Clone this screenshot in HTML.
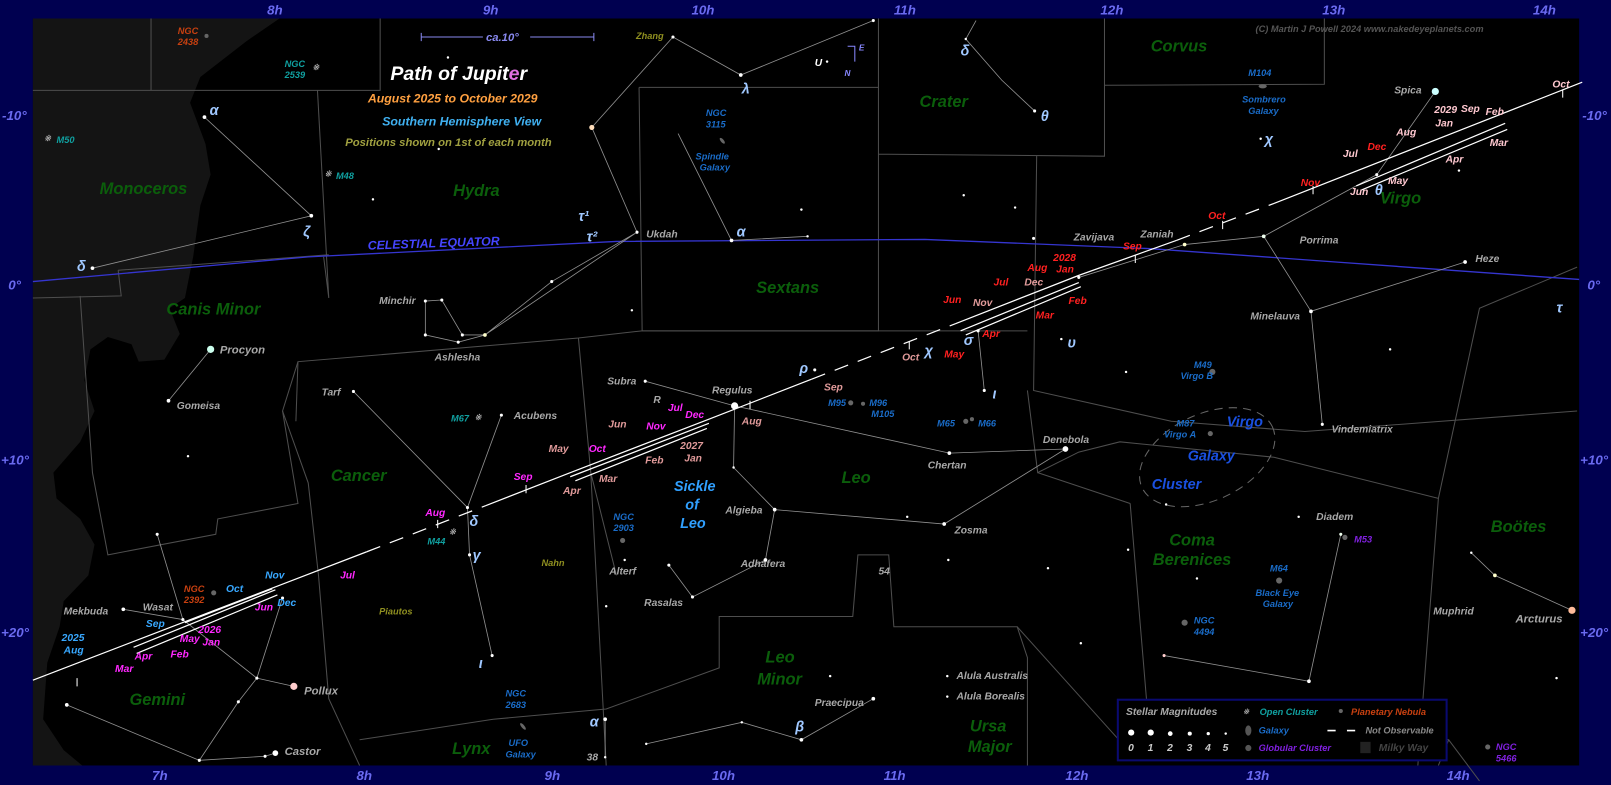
<!DOCTYPE html>
<html><head><meta charset="utf-8"><style>
html,body{margin:0;padding:0;background:#000050;}
svg{display:block;}
text{font-family:"Liberation Sans",sans-serif;font-style:italic;font-weight:bold;}
.ax{fill:#6a6af0;font-size:13px;}
.cn{fill:#0b5e0b;font-size:16px;}
.sn{fill:#a8a8a8;font-size:10px;}
.gl{fill:#1a6cc8;font-size:9px;}
.oc{fill:#10a0a0;font-size:9px;}
.pn{fill:#c84010;font-size:9px;}
.gc{fill:#8020e0;font-size:9px;}
.gk{fill:#a0c8ff;font-size:14px;font-weight:normal;font-family:"DejaVu Serif",serif;}
.m{font-style:normal;font-size:10px;}
.b{fill:#38a8ff}.g{fill:#ff28ff}.p{fill:#e09a9a}.r{fill:#ff2020}.k{fill:#ffc8d0}
</style></head><body>
<svg width="1611" height="785" viewBox="0 0 1568 764" preserveAspectRatio="none" xmlns="http://www.w3.org/2000/svg">
<rect x="0" y="0" width="1568" height="764" fill="#000050"/>
<rect x="32" y="18" width="1505" height="727" fill="#000"/>
<path d="M32,18 L272,18 L240,40 L195,75 L185,100 L200,140 L205,170 L195,200 L188,250 L180,290 L165,300 L175,325 L160,350 L135,352 L128,335 L105,328 L88,340 L82,370 L92,400 L78,430 L52,460 L55,485 L78,505 L92,530 L86,560 L62,585 L58,610 L46,645 L42,700 L62,730 L80,745 L32,745 Z" fill="#141414"/>
<g stroke="#4e4e4e" stroke-width="1" fill="none">
<path d="M147,18 L147,88 M32,88 L370,88 L370,18 M309,88 L320,290 L315,250 M115,263 L320,248 M115,263 L118,288 L32,290"/>
<path d="M622,85 L855,85 M622,85 L625,322 L855,322 L855,18 M855,150 L1075,152 L1075,18 M1075,83 L1289,82 L1289,18 M1009,152 L1006,380 L1140,410 L1270,420 L1535,400"/>
<path d="M78,288 L90,460 L105,540 L210,520 L212,505 L290,490 L275,400 L290,352 L563,329 L625,322 L1000,322"/>
<path d="M290,352 L288,410 M275,400 L300,470 L310,560 L320,680 L350,745"/>
<path d="M563,329 L575,460 L590,745 M575,460 L600,560"/>
<path d="M350,720 L480,700 L590,690 L700,650 L700,600 L830,600 L835,540 L865,540 L870,610 L990,610 L1000,640 L1000,745"/>
<path d="M1000,380 L1010,460 L1050,440 L1090,430 L1240,445 L1400,485 L1380,745"/>
<path d="M1100,490 L1120,730 M1100,490 L1010,460"/>
<path d="M1400,485 L1440,300 L1535,260 M1345,700 L1410,720 L1400,745 M1410,720 L1440,760"/>
<path d="M1089,720 L990,610"/>
</g>
<path d="M32,274 L300,250 L600,235 L900,233 L1120,242 L1300,255 L1537,272" stroke="#3535d0" stroke-width="1.3" fill="none"/>
<text x="358" y="243" fill="#4545ff" font-size="12" transform="rotate(-2 358 243)">CELESTIAL EQUATOR</text>
<ellipse cx="1175" cy="445" rx="70" ry="42" transform="rotate(-25 1175 445)" stroke="#666" stroke-dasharray="8,6" fill="none"/>
<g stroke="#909090" stroke-width="0.8" fill="none">
<path d="M199,114 L303,210 L90,261"/>
<path d="M205,340 L164,390"/>
<path d="M344,381 L455,494 L488,404 M455,494 L457,540 L479,638"/>
<path d="M153,520 L178,603 L250,660 L275,582 M250,660 L286,668 M250,660 L232,683 L194,740 M65,686 L194,740 L258,736 L268,733 M120,593 L178,603"/>
<path d="M576,124 L620,226 L472,326 M620,226 L537,274 L472,326 L446,333 L414,326 L414,293 L430,292 L450,326 L472,326"/>
<path d="M576,124 L655,36 L721,73 L850,20"/>
<path d="M660,130 L712,234 L786,230"/>
<path d="M628,371 L715,395 L924,441 L1037,437 M715,395 L714,455 L754,496 L919,510 L1037,437 M754,496 L745,545 L674,581 L651,550"/>
<path d="M958,380 L952,322"/>
<path d="M950,20 L940,38 L975,78 L1007,108"/>
<path d="M1276,303 L1230,230 L1153,238 L1050,270 M1276,303 L1287,413 M1276,303 L1426,255 M1230,230 L1340,170 M1340,170 L1397,89"/>
<path d="M1133,638 L1274,663 L1305,520 M1432,538 L1455,560 L1530,594"/>
<path d="M589,700 L589,737 M629,724 L722,703 L780,720 L850,680"/>
</g>
<g stroke="#fff" stroke-width="1.2" fill="none">
<path d="M32,662 L357,537 M473,492 L555,460 L690,408 L790,369 M930,315 L1050,268 L1145,234 M1240,198 L1540,80"/>
<path d="M357,537 L473,492 M790,369 L930,315 M1145,234 L1240,198" stroke-dasharray="14,10"/>
<path d="M130,630 L268,574 M133,636 L270,579 M180,606 L265,573"/>
<path d="M555,464 L690,412 M560,468 L688,417"/>
<path d="M935,322 L1050,275 M940,326 L1052,279"/>
<path d="M1320,181 L1465,120 M1325,185 L1467,126"/>
</g>
<g stroke="#fff" stroke-width="1">
<path d="M75,668 l0,-8 M426,514 l0,-8 M512,480 l0,-8 M730,398 l0,-8 M885,340 l0,-8 M1105,256 l0,-8 M1190,223 l0,-8 M1278,189 l0,-8 M1521,95 l0,-8"/>
</g>
<g fill="#fff">
<circle cx="205" cy="340" r="3.5" fill="#cfe"/><circle cx="164" cy="390" r="1.8"/><circle cx="199" cy="114" r="1.8"/><circle cx="303" cy="210" r="1.8"/><circle cx="90" cy="261" r="1.8"/>
<circle cx="344" cy="381" r="1.5"/><circle cx="488" cy="404" r="1.5"/><circle cx="455" cy="494" r="1.5"/><circle cx="457" cy="540" r="1.5"/><circle cx="479" cy="638" r="1.5"/>
<circle cx="286" cy="668" r="3.5" fill="#fcc"/><circle cx="268" cy="733" r="2.8"/><circle cx="258" cy="736" r="1.5"/><circle cx="194" cy="740" r="1.5"/><circle cx="65" cy="686" r="1.8"/><circle cx="232" cy="683" r="1.5"/><circle cx="250" cy="660" r="1.5"/><circle cx="275" cy="582" r="1.5"/><circle cx="153" cy="520" r="1.5"/><circle cx="120" cy="593" r="1.8"/><circle cx="178" cy="603" r="1.5"/>
<circle cx="576" cy="124" r="2.5" fill="#fdb"/><circle cx="620" cy="226" r="1.5"/><circle cx="537" cy="274" r="1.5"/><circle cx="472" cy="326" r="1.8" fill="#ffc"/><circle cx="446" cy="333" r="1.5"/><circle cx="414" cy="326" r="1.5"/><circle cx="414" cy="293" r="1.5"/><circle cx="430" cy="292" r="1.5"/><circle cx="450" cy="326" r="1.5"/>
<circle cx="655" cy="36" r="1.5"/><circle cx="721" cy="73" r="1.8"/><circle cx="850" cy="20" r="1.5"/><circle cx="712" cy="234" r="1.8"/><circle cx="786" cy="230" r="1.2"/><circle cx="805" cy="60" r="1.2"/>
<circle cx="715" cy="395" r="3.5"/><circle cx="628" cy="371" r="1.5"/><circle cx="924" cy="441" r="1.8"/><circle cx="1037" cy="437" r="2.8"/><circle cx="714" cy="455" r="1.2"/><circle cx="754" cy="496" r="1.8"/><circle cx="919" cy="510" r="1.8"/><circle cx="745" cy="545" r="1.8"/><circle cx="674" cy="581" r="1.5"/><circle cx="651" cy="550" r="1.5"/><circle cx="608" cy="545" r="1.2"/><circle cx="793" cy="360" r="1.5"/><circle cx="958" cy="380" r="1.5"/><circle cx="952" cy="322" r="1.5"/><circle cx="883" cy="503" r="1.2"/>
<circle cx="1007" cy="108" r="1.5"/><circle cx="940" cy="38" r="1.2"/><circle cx="1227" cy="135" r="1.2"/>
<circle cx="1397" cy="89" r="3.5" fill="#cff"/><circle cx="1340" cy="170" r="1.5"/><circle cx="1230" cy="230" r="1.8" fill="#efe"/><circle cx="1153" cy="238" r="1.8" fill="#ffc"/><circle cx="1050" cy="270" r="1.5"/><circle cx="1276" cy="303" r="1.8"/><circle cx="1287" cy="413" r="1.5"/><circle cx="1426" cy="255" r="1.8"/><circle cx="1006" cy="232" r="1.5"/><circle cx="1033" cy="330" r="1.2"/>
<circle cx="1305" cy="520" r="1.5" fill="#efe"/><circle cx="1274" cy="663" r="1.8"/><circle cx="1133" cy="638" r="1.5" fill="#fcc"/><circle cx="1455" cy="560" r="1.8" fill="#ffc"/><circle cx="1432" cy="538" r="1.2"/><circle cx="1530" cy="594" r="3.5" fill="#fb9"/>
<circle cx="589" cy="700" r="1.8"/><circle cx="589" cy="737" r="1.2"/><circle cx="722" cy="703" r="1.2"/><circle cx="780" cy="720" r="1.8"/><circle cx="850" cy="680" r="1.8"/><circle cx="629" cy="724" r="1.2"/><circle cx="922" cy="658" r="1.2"/><circle cx="922" cy="678" r="1.2"/><circle cx="808" cy="658" r="1.2"/>
<circle cx="436" cy="56" r="1.2"/><circle cx="363" cy="194" r="1.2"/><circle cx="427" cy="145" r="1.2"/><circle cx="780" cy="204" r="1.2"/><circle cx="938" cy="190" r="1.2"/><circle cx="988" cy="202" r="1.2"/><circle cx="1096" cy="362" r="1.2"/><circle cx="1353" cy="340" r="1.2"/><circle cx="1420" cy="166" r="1.2"/><circle cx="1264" cy="503" r="1.2"/><circle cx="1165" cy="563" r="1.2"/><circle cx="1152" cy="606" r="1.2"/><circle cx="1135" cy="491" r="1.2"/><circle cx="1515" cy="660" r="1.2"/><circle cx="1098" cy="535" r="1.2"/><circle cx="183" cy="444" r="1.2"/><circle cx="1020" cy="553" r="1.2"/><circle cx="1052" cy="626" r="1.2"/><circle cx="615" cy="302" r="1.2"/><circle cx="923" cy="545" r="1.2"/><circle cx="590" cy="590" r="1.2"/>
</g>
<g fill="#666"><circle cx="201" cy="35" r="2"/><circle cx="208" cy="577" r="2.5"/><circle cx="606" cy="526" r="2.5"/><circle cx="828" cy="392" r="2.5"/><circle cx="840" cy="393" r="2"/><circle cx="940" cy="410" r="2.5"/><circle cx="946" cy="408" r="2"/><circle cx="1180" cy="362" r="3"/><circle cx="1178" cy="422" r="2.5"/><circle cx="1153" cy="606" r="3"/><circle cx="1245" cy="565" r="3"/><circle cx="1309" cy="523" r="2.5"/><circle cx="1448" cy="727" r="2.5"/><ellipse cx="1229" cy="84" rx="4" ry="2"/><ellipse cx="703" cy="137" rx="1.5" ry="3.5" transform="rotate(-40 703 137)"/><ellipse cx="509" cy="707" rx="1.5" ry="4" transform="rotate(-40 509 707)"/></g>
<g fill="#aaa" font-size="8" font-style="normal"><text x="304" y="68">※</text><text x="43" y="137">※</text><text x="316" y="172">※</text><text x="462" y="409">※</text><text x="437" y="520">※</text></g>
<path d="M410,36 L578,36 M410,32 L410,40 M578,32 L578,40" stroke="#8888ee"/>
<rect x="470" y="30" width="46" height="12" fill="#000"/>
<text x="473" y="40" fill="#8888ee" font-size="11">ca.10°</text>
<text x="380" y="78" fill="#fff" font-size="19" font-weight="normal">Path of <tspan font-weight="bold">Jupit<tspan fill="#e070e0">e</tspan>r</tspan></text>
<text x="358" y="100" fill="#ffa040" font-size="12" font-style="normal">August 2025 to October 2029</text>
<text x="372" y="122" fill="#40b0f0" font-size="12">Southern Hemisphere View</text>
<text x="336" y="142" fill="#a0a040" font-size="11">Positions shown on 1st of each month</text>
<text x="1222" y="31" fill="#555" font-size="9">(C) Martin J Powell  2024  www.nakedeyeplanets.com</text>
<text x="793" y="64" fill="#fff" font-size="10">U</text><path d="M825,45 L832,45 L832,60" stroke="#88f" fill="none"/><text x="836" y="49" fill="#88f" font-size="8" font-style="normal">E</text><text x="822" y="74" fill="#88f" font-size="8" font-style="normal">N</text>
<g class="ax"><text x="260" y="14">8h</text><text x="470" y="14">9h</text><text x="673" y="14">10h</text><text x="870" y="14">11h</text><text x="1071" y="14">12h</text><text x="1287" y="14">13h</text><text x="1492" y="14">14h</text>
<text x="148" y="759">7h</text><text x="347" y="759">8h</text><text x="530" y="759">9h</text><text x="693" y="759">10h</text><text x="860" y="759">11h</text><text x="1037" y="759">12h</text><text x="1213" y="759">13h</text><text x="1408" y="759">14h</text>
<text x="2" y="117">-10°</text><text x="8" y="282">0°</text><text x="1" y="452">+10°</text><text x="1" y="620">+20°</text>
<text x="1540" y="117">-10°</text><text x="1545" y="282">0°</text><text x="1538" y="452">+10°</text><text x="1538" y="620">+20°</text></g>
<g class="cn"><text x="97" y="189">Monoceros</text><text x="441" y="191">Hydra</text><text x="162" y="306">Canis Minor</text><text x="736" y="285">Sextans</text><text x="895" y="104">Crater</text><text x="1120" y="50">Corvus</text><text x="1343" y="198">Virgo</text><text x="322" y="468">Cancer</text><text x="819" y="470">Leo</text><text x="126" y="686">Gemini</text><text x="440" y="734">Lynx</text><text x="745" y="645">Leo</text><text x="737" y="666">Minor</text><text x="944" y="712">Ursa</text><text x="942" y="732">Major</text><text x="1138" y="531">Coma</text><text x="1122" y="550">Berenices</text><text x="1451" y="518">Boötes</text></g>
<text x="656" y="478" fill="#30a0ff" font-size="14" font-weight="normal">Sickle</text><text x="667" y="496" fill="#30a0ff" font-size="14" font-weight="normal">of</text><text x="662" y="514" fill="#30a0ff" font-size="14" font-weight="normal">Leo</text>
<text x="1194" y="415" fill="#1a50e0" font-size="14" font-weight="normal">Virgo</text><text x="1156" y="448" fill="#1a50e0" font-size="14" font-weight="normal">Galaxy</text><text x="1121" y="476" fill="#1a50e0" font-size="14" font-weight="normal">Cluster</text>
<g class="sn"><text x="214" y="344" font-size="11">Procyon</text><text x="172" y="398">Gomeisa</text><text x="369" y="296">Minchir</text><text x="423" y="351">Ashlesha</text><text x="313" y="385">Tarf</text><text x="500" y="408">Acubens</text><text x="629" y="231">Ukdah</text><text x="591" y="374">Subra</text><text x="693" y="383">Regulus</text><text x="903" y="456">Chertan</text><text x="1015" y="431">Denebola</text><text x="706" y="500">Algieba</text><text x="929" y="519">Zosma</text><text x="721" y="552">Adhafera</text><text x="627" y="590">Rasalas</text><text x="593" y="559">Alterf</text><text x="62" y="598">Mekbuda</text><text x="139" y="594">Wasat</text><text x="296" y="676" font-size="11">Pollux</text><text x="277" y="735" font-size="11">Castor</text><text x="1045" y="234">Zavijava</text><text x="1110" y="231">Zaniah</text><text x="1265" y="237">Porrima</text><text x="1217" y="311">Minelauva</text><text x="1436" y="255">Heze</text><text x="1296" y="421">Vindemiatrix</text><text x="1357" y="91">Spica</text><text x="1281" y="506">Diadem</text><text x="1395" y="598">Muphrid</text><text x="1475" y="606" font-size="11">Arcturus</text><text x="931" y="661">Alula Australis</text><text x="931" y="681">Alula Borealis</text><text x="793" y="687">Praecipua</text><text x="636" y="392" font-style="normal">R</text><text x="855" y="559" font-style="normal">54</text><text x="571" y="740" font-style="normal">38</text></g>
<g font-size="9" fill="#909020"><text x="619" y="38">Zhang</text><text x="527" y="551">Nahn</text><text x="369" y="598">Piautos</text></g>
<g class="gk"><text x="204" y="112">α</text><text x="295" y="230">ζ</text><text x="75" y="264">δ</text><text x="563" y="215">τ¹</text><text x="571" y="235">τ²</text><text x="722" y="91">λ</text><text x="717" y="230">α</text><text x="1013" y="118">θ</text><text x="935" y="54">δ</text><text x="1231" y="140">χ</text><text x="1338" y="190">θ</text><text x="1515" y="304">τ</text><text x="457" y="512">δ</text><text x="460" y="545">γ</text><text x="466" y="650">ι</text><text x="778" y="363">ρ</text><text x="900" y="346">χ</text><text x="938" y="336">σ</text><text x="1039" y="338">υ</text><text x="966" y="388">ι</text><text x="774" y="712">β</text><text x="574" y="707">α</text></g>
<g class="pn"><text x="173" y="33">NGC</text><text x="173" y="44">2438</text><text x="179" y="576">NGC</text><text x="179" y="587">2392</text></g>
<g class="oc"><text x="277" y="65">NGC</text><text x="277" y="76">2539</text><text x="55" y="139">M50</text><text x="327" y="174">M48</text><text x="439" y="410">M67</text><text x="416" y="530">M44</text></g>
<g class="gl"><text x="687" y="113">NGC</text><text x="687" y="124">3115</text><text x="677" y="155">Spindle</text><text x="681" y="166">Galaxy</text><text x="1215" y="74">M104</text><text x="1209" y="100">Sombrero</text><text x="1215" y="111">Galaxy</text><text x="806" y="395">M95</text><text x="846" y="395">M96</text><text x="848" y="406">M105</text><text x="912" y="415">M65</text><text x="952" y="415">M66</text><text x="1162" y="358">M49</text><text x="1149" y="369">Virgo B</text><text x="1145" y="415">M87</text><text x="1133" y="426">Virgo A</text><text x="597" y="506">NGC</text><text x="597" y="517">2903</text><text x="1236" y="556">M64</text><text x="1222" y="580">Black Eye</text><text x="1229" y="591">Galaxy</text><text x="1162" y="607">NGC</text><text x="1162" y="618">4494</text><text x="492" y="678">NGC</text><text x="492" y="689">2683</text><text x="495" y="726">UFO</text><text x="492" y="737">Galaxy</text></g>
<g class="gc"><text x="1318" y="528">M53</text><text x="1456" y="730">NGC</text><text x="1456" y="741">5466</text></g>
<g class="m">
<text x="60" y="624" class="b">2025</text><text x="62" y="636" class="b">Aug</text><text x="142" y="610" class="b">Sep</text><text x="220" y="576" class="b">Oct</text><text x="258" y="563" class="b">Nov</text><text x="270" y="590" class="b">Dec</text>
<text x="112" y="654" class="g">Mar</text><text x="131" y="642" class="g">Apr</text><text x="166" y="640" class="g">Feb</text><text x="175" y="625" class="g">May</text><text x="193" y="616" class="g">2026</text><text x="197" y="628" class="g">Jan</text><text x="248" y="594" class="g">Jun</text>
<text x="331" y="563" class="g">Jul</text><text x="414" y="502" class="g">Aug</text><text x="500" y="467" class="g">Sep</text><text x="573" y="440" class="g">Oct</text><text x="629" y="418" class="g">Nov</text><text x="667" y="407" class="g">Dec</text><text x="650" y="400" class="g">Jul</text>
<text x="534" y="440" class="p">May</text><text x="592" y="416" class="p">Jun</text><text x="548" y="481" class="p">Apr</text><text x="583" y="469" class="p">Mar</text><text x="628" y="451" class="p">Feb</text><text x="662" y="437" class="p">2027</text><text x="666" y="449" class="p">Jan</text><text x="722" y="413" class="p">Aug</text><text x="802" y="380" class="p">Sep</text><text x="878" y="351" class="p">Oct</text><text x="947" y="298" class="p">Nov</text><text x="997" y="278" class="p">Dec</text>
<text x="918" y="295" class="r">Jun</text><text x="967" y="278" class="r">Jul</text><text x="1000" y="264" class="r">Aug</text><text x="1025" y="254" class="r">2028</text><text x="1028" y="265" class="r">Jan</text><text x="1040" y="296" class="r">Feb</text><text x="1008" y="310" class="r">Mar</text><text x="956" y="328" class="r">Apr</text><text x="919" y="348" class="r">May</text><text x="1093" y="243" class="r">Sep</text><text x="1176" y="213" class="r">Oct</text><text x="1266" y="181" class="r">Nov</text><text x="1331" y="146" class="r">Dec</text>
<text x="1307" y="153" class="k">Jul</text><text x="1359" y="132" class="k">Aug</text><text x="1396" y="110" class="k">2029</text><text x="1397" y="123" class="k">Jan</text><text x="1422" y="109" class="k">Sep</text><text x="1446" y="112" class="k">Feb</text><text x="1450" y="142" class="k">Mar</text><text x="1407" y="158" class="k">Apr</text><text x="1351" y="179" class="k">May</text><text x="1314" y="190" class="k">Jun</text><text x="1511" y="85" class="k">Oct</text>
</g>
<!-- legend -->
<rect x="1088" y="681" width="320" height="59" fill="#000" stroke="#0a0a70" stroke-width="2"/>
<text x="1096" y="696" fill="#aaa" font-size="10">Stellar Magnitudes</text>
<g fill="#fff"><circle cx="1101" cy="713" r="3"/><circle cx="1120" cy="713" r="3"/><circle cx="1139" cy="714" r="2.3"/><circle cx="1158" cy="714" r="2"/><circle cx="1176" cy="714" r="1.6"/><circle cx="1193" cy="714" r="1.2"/></g>
<g fill="#ccc" font-size="10"><text x="1098" y="731">0</text><text x="1117" y="731">1</text><text x="1136" y="731">2</text><text x="1155" y="731">3</text><text x="1173" y="731">4</text><text x="1190" y="731">5</text></g>
<text x="1210" y="695" fill="#aaa" font-size="7" font-style="normal">※</text>
<text x="1226" y="696" class="oc" font-size="10">Open Cluster</text>
<circle cx="1305" cy="692" r="2" fill="#666"/>
<text x="1315" y="696" class="pn" font-size="10">Planetary Nebula</text>
<ellipse cx="1215" cy="711" rx="3" ry="5" fill="#555"/>
<text x="1225" y="714" class="gl" font-size="10">Galaxy</text>
<circle cx="1215" cy="728" r="3" fill="#555"/>
<text x="1225" y="731" class="gc" font-size="10">Globular Cluster</text>
<path d="M1292,711 L1300,711 M1311,711 L1319,711" stroke="#fff" stroke-width="1.5"/>
<text x="1329" y="714" fill="#888" font-size="9">Not Observable</text>
<rect x="1324" y="722" width="10" height="11" fill="#222"/><text x="1342" y="731" fill="#444" font-size="10">Milky Way</text>
</svg>
</body></html>
